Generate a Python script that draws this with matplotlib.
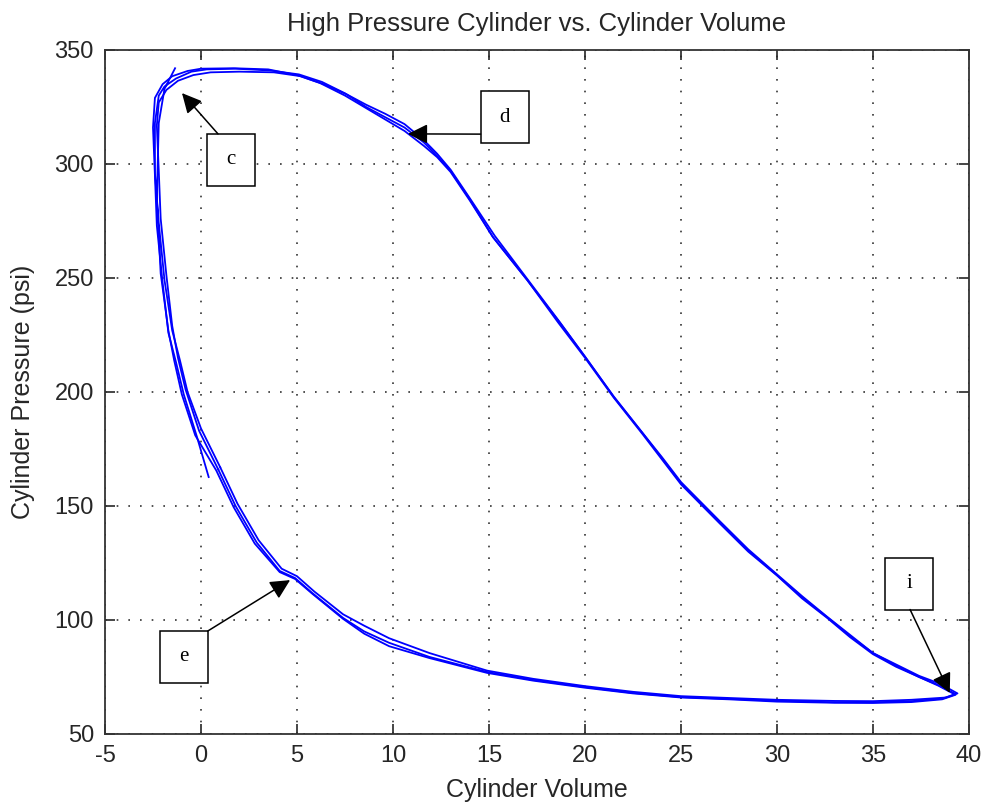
"""
High pressure cylinder P-V loop (three overlapping cycles) with labelled points.
"""
import matplotlib
matplotlib.use("Agg")
import matplotlib.pyplot as plt
from matplotlib.patches import Rectangle

# ---- data (volume, psi) ----
vol_1 = [0.4, -0.2, -0.9, -1.3, -1.7, -2.0, -2.3, -2.4, -2.5, -2.4, -2.0, -1.5, -0.7, 0.0,
         1.7, 3.5, 5.0, 6.2, 7.5, 8.6, 9.6, 10.6, 11.6, 12.3, 13.0, 14.0, 15.2, 17.0, 18.7,
         20.0, 21.5, 23.0, 24.0, 25.0, 26.0, 27.0, 28.5, 30.0, 31.3, 32.6, 33.8, 35.0, 36.2,
         37.4, 38.4, 39.3, 38.6, 37.0, 35.0, 33.0, 30.0, 27.5, 25.0, 22.5, 20.0, 17.3, 14.9,
         11.9, 9.8, 8.5, 7.4, 5.8, 4.9, 4.1, 2.9, 1.8, 0.9]
psi_1 = [162.7, 180, 199, 213, 226, 248, 273, 295, 316, 329, 335, 338.5, 340.8, 341.8,
         342, 341.5, 339, 335.5, 330, 324.5, 319.5, 314.5, 308, 303, 296.5, 284, 268, 249,
         230.3, 215.5, 197.8, 182, 171, 160, 151.5, 143, 130.5, 119.7, 110, 101.3, 93, 85.5,
         80, 75, 71.5, 67.5, 65.5, 64.4, 63.9, 63.9, 64.6, 65.4, 66.2, 68, 70.6, 73.7, 77.2,
         83.8, 90, 95, 100.9, 111.8, 118.4, 121.5, 134, 150, 166]

vol_2 = [0.9, -0.1, -0.8, -1.2, -1.5, -1.8, -2.1, -2.2, -2.3, -2.2, -1.8, -1.2, -0.4, 0.5,
         2.0, 3.8, 5.2, 6.4, 7.6, 8.6, 9.6, 10.6, 11.6, 12.3, 13.0, 14.0, 15.3, 17.0, 18.7,
         20.0, 21.5, 23.0, 24.0, 25.0, 26.0, 27.0, 28.5, 30.0, 31.3, 32.6, 33.8, 35.0, 36.2,
         37.4, 38.5, 39.4, 38.8, 37.0, 35.0, 33.0, 30.0, 27.5, 25.0, 22.5, 20.0, 17.3, 14.9,
         11.9, 9.8, 8.5, 7.4, 5.9, 5.0, 4.2, 3.0, 1.9, 1.0]
psi_2 = [166, 183, 201, 215, 229, 251, 276, 297, 317, 327, 332.5, 336.5, 339, 340.2,
         340.5, 340.2, 338.5, 335, 330.5, 326, 322, 317.5, 310.5, 304.5, 297.5, 285, 268.5,
         249.5, 230.5, 215.5, 198, 182, 171.5, 160.5, 152, 143.5, 131, 120, 110.5, 101.5,
         93.5, 85.5, 80.5, 75.5, 72, 67.8, 66.0, 65.0, 64.4, 64.5, 65.0, 65.8, 66.6, 68.5,
         71.0, 74.2, 77.8, 85.5, 92.0, 97.5, 102.5, 112.5, 119.2, 122.5, 135, 151, 167]

vol_3 = [1.0, 0.0, -0.7, -1.1, -1.5, -1.9, -2.2, -2.4, -2.4, -2.2, -1.9, -1.3, -0.5, 0.3,
         1.8, 3.6, 5.1, 6.3, 7.5, 8.6, 9.6, 10.6, 11.6, 12.3, 13.0, 14.0, 15.2, 17.0, 18.6,
         20.0, 21.5, 23.0, 24.0, 25.0, 26.0, 27.0, 28.5, 30.0, 31.3, 32.6, 33.8, 35.0, 36.2,
         37.4, 38.4, 39.3, 38.6, 37.0, 35.0, 33.0, 30.0, 27.5, 25.0, 22.5, 20.0, 17.3, 14.9,
         11.9, 9.8, 8.5, 7.4, 5.8, 4.9, 4.1, 2.8, 1.7, 0.8, -0.3, -1.0, -1.4, -1.7, -2.1,
         -2.3, -2.2, -1.9, -1.35]
psi_3 = [167, 184, 200, 214, 227, 249, 274, 296, 318, 330, 334, 337.5, 340.5, 341.5,
         341.8, 341, 339.3, 336, 331, 325, 320.5, 316, 309.5, 303.5, 297, 284.5, 268, 249,
         230.5, 215, 197.5, 181.5, 170.5, 159.5, 151, 142.5, 130, 119.5, 109.5, 101, 92.5,
         85, 79.5, 75, 71.2, 67.2, 65.2, 64.0, 63.6, 63.7, 64.2, 65.2, 66.0, 67.8, 70.3,
         73.4, 76.8, 83.3, 88.5, 94.0, 100.5, 111.5, 118, 121, 133.5, 149.5, 165.5, 181, 199,
         214, 227, 252, 285, 318, 333, 342]

cycles = [(vol_1, psi_1), (vol_2, psi_2), (vol_3, psi_3)]

# labelled points: letter, arrow tip, box centre
labels = ["c", "d", "e", "i"]
tips = [(-0.99, 331.1), (10.78, 313.2), (4.64, 117.5), (39.0, 68.0)]
boxes = [(1.56, 301.8), (15.81, 320.4), (-0.89, 83.8), (36.88, 116.0)]
arrow_from = [(0.23, 1.0), (0.0, 0.18), (1.0, 1.0), (0.52, 0.0)]  # relative spot on box
BOX_W, BOX_H = 2.5, 22.8   # box size in data units (~48 x 52 px)

plt.rcParams["font.family"] = ["Liberation Sans", "DejaVu Sans"]
plt.rcParams["axes.unicode_minus"] = False
fig = plt.figure(figsize=(9.84, 8.08), dpi=100)
ax = fig.add_axes([105 / 984, 74 / 808, 864 / 984, 684 / 808])

for v, p in cycles:
    ax.plot(v, p, color="#0000ff", lw=1.3)

for lab, tip, (cx, cy), (rx, ry) in zip(labels, tips, boxes, arrow_from):
    ax.add_patch(Rectangle((cx - BOX_W / 2, cy - BOX_H / 2), BOX_W, BOX_H,
                           facecolor="white", edgecolor="black", lw=1.1, zorder=5))
    ax.text(cx, cy, lab, ha="center", va="center", fontsize=15,
            family="Liberation Serif", zorder=6)
    start = (cx - BOX_W / 2 + rx * BOX_W, cy - BOX_H / 2 + ry * BOX_H)
    ax.annotate("", xy=tip, xytext=start, zorder=6,
                arrowprops=dict(arrowstyle="-|>,head_length=0.6,head_width=0.3",
                                color="black", lw=1.1, mutation_scale=20,
                                shrinkA=0, shrinkB=0))

ax.set_xlim(-5, 40)
ax.set_ylim(50, 350)
ax.set_xticks(range(-5, 41, 5))
ax.set_yticks(range(50, 351, 50))
ax.grid(True, color="0.2", linestyle=(0, (1, 6)), lw=1.2)
ax.tick_params(direction="in", length=7, width=1.2, top=True, right=True,
               labelsize=17, pad=8, colors="0.15")
for s in ax.spines.values():
    s.set_linewidth(1.3)
    s.set_color("0.2")

ax.set_title("High Pressure Cylinder vs. Cylinder Volume", fontsize=18.5, pad=14, color="0.15")
ax.set_xlabel("Cylinder Volume", fontsize=18, labelpad=8, color="0.15")
ax.set_ylabel("Cylinder Pressure (psi)", fontsize=18, labelpad=14, color="0.15")

fig.savefig("out.png", dpi=100)
